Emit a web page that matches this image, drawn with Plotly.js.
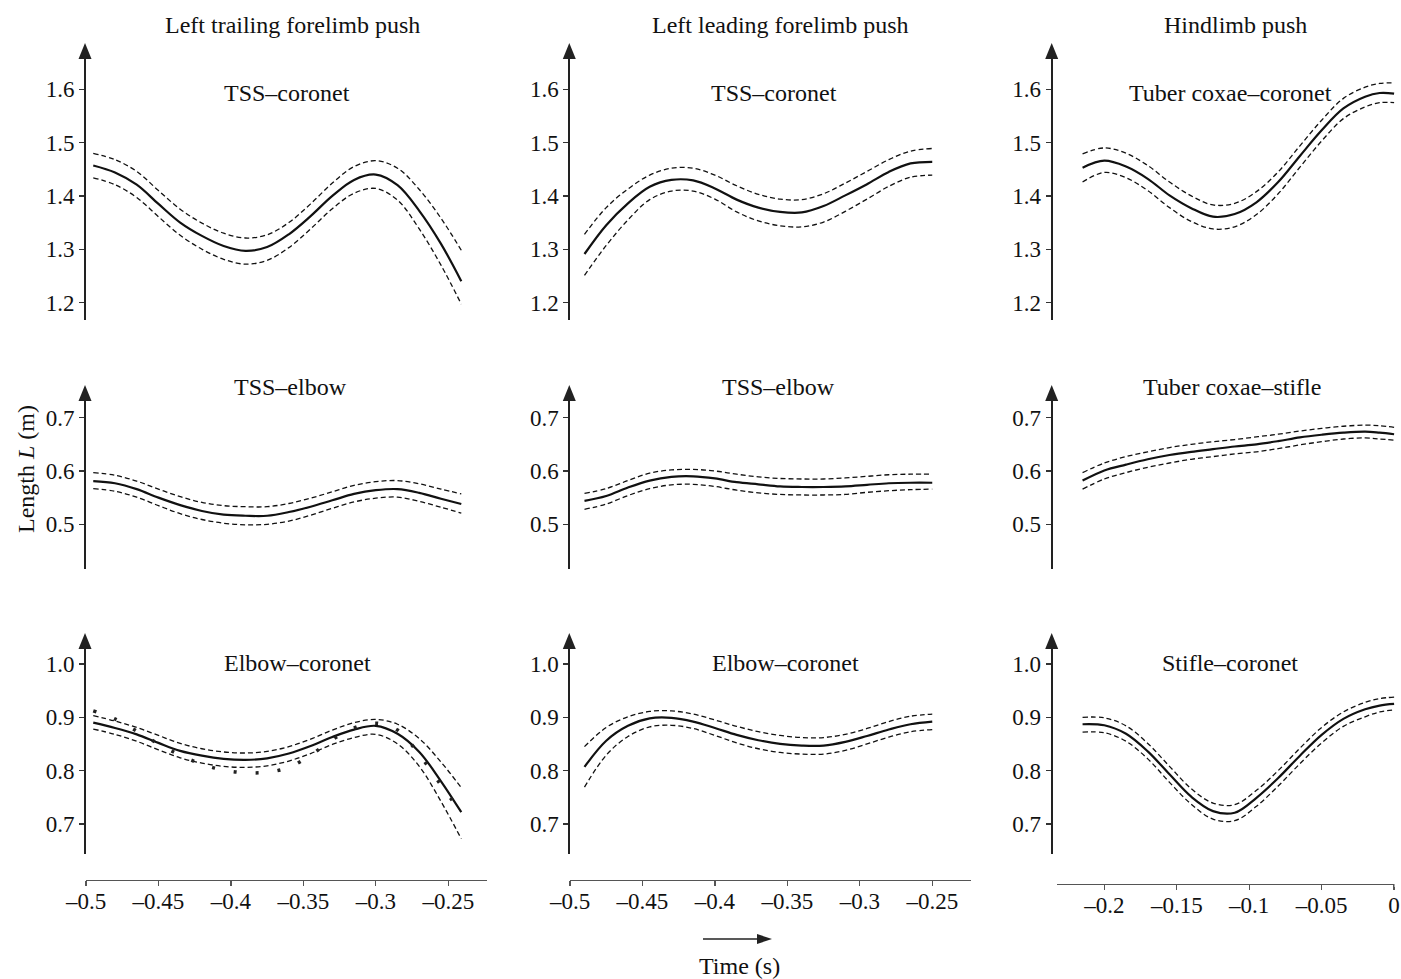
<!DOCTYPE html>
<html>
<head>
<meta charset="utf-8">
<script src="https://cdn.plot.ly/plotly-3.0.1.min.js"></script>
<style>html,body{margin:0;padding:0;background:#fff;}#chart{width:1401px;height:979px;}</style>
</head>
<body>
<div id="chart"></div>
<script>
// ---------- DATA ----------
const columnTitles = ["Left trailing forelimb push", "Left leading forelimb push", "Hindlimb push"];
const panelTitles = [
  "TSS–coronet", "TSS–coronet", "Tuber coxae–coronet",
  "TSS–elbow", "TSS–elbow", "Tuber coxae–stifle",
  "Elbow–coronet", "Elbow–coronet", "Stifle–coronet"
];

// time grids (s)
const tTrail = [-0.495, -0.48, -0.465, -0.45, -0.435, -0.42, -0.405, -0.39, -0.375, -0.36, -0.345, -0.33, -0.315, -0.30, -0.285, -0.27, -0.255, -0.241];
const tLead  = [-0.49, -0.475, -0.46, -0.445, -0.43, -0.415, -0.40, -0.385, -0.37, -0.355, -0.34, -0.325, -0.31, -0.295, -0.28, -0.265, -0.25];
const tHind  = [-0.215, -0.2, -0.185, -0.17, -0.155, -0.14, -0.125, -0.11, -0.095, -0.08, -0.065, -0.05, -0.035, -0.02, -0.01, 0];

// Left trailing forelimb push
const trailTssCoronetMean = [1.457, 1.444, 1.421, 1.385, 1.350, 1.325, 1.306, 1.297, 1.304, 1.328, 1.362, 1.400, 1.430, 1.440, 1.420, 1.372, 1.310, 1.240];
const trailTssCoronetUp   = [1.480, 1.468, 1.446, 1.410, 1.375, 1.349, 1.330, 1.321, 1.327, 1.350, 1.385, 1.424, 1.455, 1.466, 1.452, 1.412, 1.358, 1.298];
const trailTssCoronetLo   = [1.434, 1.421, 1.397, 1.361, 1.326, 1.300, 1.281, 1.272, 1.279, 1.303, 1.338, 1.376, 1.405, 1.414, 1.392, 1.338, 1.270, 1.197];

const trailTssElbowMean = [0.581, 0.577, 0.566, 0.550, 0.536, 0.525, 0.518, 0.516, 0.516, 0.523, 0.533, 0.545, 0.557, 0.564, 0.566, 0.559, 0.548, 0.538];
const trailTssElbowUp   = [0.597, 0.592, 0.581, 0.566, 0.552, 0.541, 0.535, 0.533, 0.533, 0.539, 0.549, 0.561, 0.573, 0.580, 0.582, 0.576, 0.566, 0.557];
const trailTssElbowLo   = [0.567, 0.562, 0.551, 0.535, 0.520, 0.509, 0.502, 0.499, 0.500, 0.506, 0.517, 0.530, 0.542, 0.549, 0.551, 0.543, 0.532, 0.521];

const trailElbowCoronetMean = [0.890, 0.880, 0.868, 0.852, 0.837, 0.828, 0.822, 0.820, 0.823, 0.832, 0.846, 0.863, 0.877, 0.884, 0.869, 0.835, 0.780, 0.722];
const trailElbowCoronetUp   = [0.903, 0.893, 0.881, 0.866, 0.851, 0.841, 0.835, 0.833, 0.836, 0.845, 0.859, 0.876, 0.890, 0.896, 0.887, 0.860, 0.816, 0.768];
const trailElbowCoronetLo   = [0.878, 0.868, 0.855, 0.839, 0.824, 0.814, 0.808, 0.806, 0.809, 0.818, 0.832, 0.849, 0.862, 0.868, 0.850, 0.808, 0.742, 0.672];
const trailElbowCoronetAlt  = [0.912, 0.897, 0.874, 0.850, 0.829, 0.812, 0.801, 0.796, 0.797, 0.806, 0.829, 0.858, 0.880, 0.889, 0.876, 0.830, 0.773, 0.721];

// Left leading forelimb push
const leadTssCoronetMean = [1.291, 1.345, 1.386, 1.417, 1.430, 1.429, 1.414, 1.393, 1.378, 1.370, 1.369, 1.381, 1.401, 1.422, 1.445, 1.461, 1.464];
const leadTssCoronetUp   = [1.328, 1.378, 1.413, 1.439, 1.452, 1.452, 1.439, 1.419, 1.403, 1.394, 1.393, 1.404, 1.424, 1.446, 1.468, 1.484, 1.489];
const leadTssCoronetLo   = [1.251, 1.307, 1.355, 1.393, 1.409, 1.409, 1.394, 1.370, 1.353, 1.344, 1.342, 1.351, 1.371, 1.394, 1.418, 1.435, 1.439];

const leadTssElbowMean = [0.544, 0.553, 0.569, 0.582, 0.589, 0.590, 0.586, 0.579, 0.575, 0.571, 0.570, 0.570, 0.571, 0.574, 0.577, 0.578, 0.578];
const leadTssElbowUp   = [0.558, 0.567, 0.582, 0.596, 0.602, 0.603, 0.600, 0.594, 0.589, 0.586, 0.585, 0.585, 0.587, 0.590, 0.593, 0.594, 0.594];
const leadTssElbowLo   = [0.528, 0.538, 0.554, 0.567, 0.574, 0.575, 0.571, 0.564, 0.559, 0.556, 0.555, 0.555, 0.556, 0.560, 0.563, 0.565, 0.566];

const leadElbowCoronetMean = [0.807, 0.856, 0.884, 0.898, 0.899, 0.892, 0.880, 0.867, 0.857, 0.850, 0.847, 0.847, 0.854, 0.865, 0.877, 0.887, 0.892];
const leadElbowCoronetUp   = [0.845, 0.881, 0.901, 0.911, 0.912, 0.906, 0.895, 0.883, 0.873, 0.866, 0.862, 0.862, 0.868, 0.879, 0.892, 0.902, 0.906];
const leadElbowCoronetLo   = [0.769, 0.829, 0.864, 0.882, 0.885, 0.879, 0.866, 0.852, 0.841, 0.834, 0.831, 0.831, 0.838, 0.850, 0.863, 0.873, 0.877];

// Hindlimb push
const hindCoxaeCoronetMean = [1.453, 1.466, 1.455, 1.432, 1.401, 1.377, 1.361, 1.366, 1.388, 1.426, 1.475, 1.523, 1.564, 1.586, 1.593, 1.592];
const hindCoxaeCoronetUp   = [1.479, 1.490, 1.480, 1.457, 1.426, 1.400, 1.383, 1.386, 1.408, 1.445, 1.494, 1.542, 1.583, 1.604, 1.611, 1.612];
const hindCoxaeCoronetLo   = [1.426, 1.444, 1.434, 1.410, 1.378, 1.352, 1.338, 1.342, 1.365, 1.404, 1.454, 1.503, 1.545, 1.567, 1.575, 1.575];

const hindCoxaeStifleMean = [0.582, 0.601, 0.612, 0.622, 0.630, 0.636, 0.641, 0.646, 0.650, 0.656, 0.663, 0.668, 0.672, 0.674, 0.672, 0.669];
const hindCoxaeStifleUp   = [0.597, 0.615, 0.627, 0.636, 0.644, 0.650, 0.655, 0.659, 0.664, 0.669, 0.675, 0.680, 0.684, 0.686, 0.685, 0.682];
const hindCoxaeStifleLo   = [0.566, 0.585, 0.597, 0.607, 0.615, 0.622, 0.627, 0.632, 0.636, 0.642, 0.649, 0.655, 0.660, 0.662, 0.660, 0.658];

const hindStifleCoronetMean = [0.887, 0.885, 0.869, 0.836, 0.793, 0.751, 0.724, 0.721, 0.749, 0.786, 0.828, 0.867, 0.897, 0.915, 0.922, 0.925];
const hindStifleCoronetUp   = [0.900, 0.899, 0.884, 0.851, 0.808, 0.766, 0.739, 0.736, 0.763, 0.800, 0.842, 0.881, 0.910, 0.928, 0.935, 0.938];
const hindStifleCoronetLo   = [0.872, 0.871, 0.855, 0.822, 0.778, 0.737, 0.709, 0.706, 0.733, 0.771, 0.813, 0.852, 0.883, 0.901, 0.910, 0.914];

// tick labels
const yTicksRow1 = [1.2, 1.3, 1.4, 1.5, 1.6];
const yTextRow1 = ["1.2", "1.3", "1.4", "1.5", "1.6"];
const yTicksRow2 = [0.5, 0.6, 0.7];
const yTextRow2 = ["0.5", "0.6", "0.7"];
const yTicksRow3 = [0.7, 0.8, 0.9, 1.0];
const yTextRow3 = ["0.7", "0.8", "0.9", "1.0"];
const xTicksFore = [-0.5, -0.45, -0.4, -0.35, -0.3, -0.25];
const xTextFore = ["–0.5", "–0.45", "–0.4", "–0.35", "–0.3", "–0.25"];
const xTicksHind = [-0.2, -0.15, -0.1, -0.05, 0];
const xTextHind = ["–0.2", "–0.15", "–0.1", "–0.05", "0"];
const yAxisTitle = "Length <i>L</i> (m)";
const xAxisTitle = "Time (s)";

// ---------- LAYOUT GEOMETRY ----------
const W = 1401, H = 979;
const PX = v => v / W;
const PY = v => 1 - v / H;
const FONT = "Liberation Serif, Times New Roman, serif";
const FS = 23;   // tick labels
const TS = 24;   // titles
const YS = 533, XS = 1449;

const rows = [
  {tip: 43, bot: 320, ref: 1.6, refPx: 89.3, tv: yTicksRow1, tt: yTextRow1, titleY: 93},
  {tip: 385, bot: 569, ref: 0.7, refPx: 417.7, tv: yTicksRow2, tt: yTextRow2, titleY: 387},
  {tip: 633, bot: 854, ref: 1.0, refPx: 664, tv: yTicksRow3, tt: yTextRow3, titleY: 663}
];
const cols = [
  {axisX: 85, domL: 86, domR: 487, xref: -0.5, xrefPx: 86, axisY: 880, tv: xTicksFore, tt: xTextFore, t: tTrail, headX: 292, titleX: [287, 290, 297]},
  {axisX: 569.3, domL: 570, domR: 971, xref: -0.5, xrefPx: 570, axisY: 880, tv: xTicksFore, tt: xTextFore, t: tLead, headX: 780, titleX: [774, 778, 785]},
  {axisX: 1051.7, domL: 1057, domR: 1397, xref: -0.2, xrefPx: 1104.3, axisY: 884, tv: xTicksHind, tt: xTextHind, t: tHind, headX: 1235, titleX: [1230, 1232, 1230]}
];

const panels = [
  [trailTssCoronetMean, trailTssCoronetUp, trailTssCoronetLo],
  [leadTssCoronetMean, leadTssCoronetUp, leadTssCoronetLo],
  [hindCoxaeCoronetMean, hindCoxaeCoronetUp, hindCoxaeCoronetLo],
  [trailTssElbowMean, trailTssElbowUp, trailTssElbowLo],
  [leadTssElbowMean, leadTssElbowUp, leadTssElbowLo],
  [hindCoxaeStifleMean, hindCoxaeStifleUp, hindCoxaeStifleLo],
  [trailElbowCoronetMean, trailElbowCoronetUp, trailElbowCoronetLo],
  [leadElbowCoronetMean, leadElbowCoronetUp, leadElbowCoronetLo],
  [hindStifleCoronetMean, hindStifleCoronetUp, hindStifleCoronetLo]
];

const layout = {
  width: W, height: H,
  margin: {l: 0, r: 0, t: 0, b: 0},
  paper_bgcolor: "#fff", plot_bgcolor: "rgba(0,0,0,0)",
  showlegend: false,
  font: {family: FONT, size: FS, color: "#111"},
  shapes: [], annotations: []
};

cols.forEach((c, ci) => {
  const id = ci === 0 ? "xaxis" : "xaxis" + (ci + 1);
  layout[id] = {
    domain: [PX(c.domL), PX(c.domR)],
    range: [c.xref + (c.domL - c.xrefPx) / XS, c.xref + (c.domR - c.xrefPx) / XS],
    anchor: "free", position: PY(c.axisY),
    showline: true, linecolor: "#555", linewidth: 1.2,
    ticks: "outside", ticklen: 5, tickwidth: 1.2, tickcolor: "#555",
    tickmode: "array", tickvals: c.tv, ticktext: c.tt,
    tickfont: {family: FONT, size: FS, color: "#111"},
    showgrid: false, zeroline: false, fixedrange: true
  };
  layout.annotations.push({
    text: columnTitles[ci], xref: "paper", yref: "paper",
    x: PX(c.headX), y: PY(25), showarrow: false,
    font: {family: FONT, size: TS, color: "#111"}, xanchor: "center", yanchor: "middle"
  });
});

const traces = [];
rows.forEach((r, ri) => {
  cols.forEach((c, ci) => {
    const i = ri * 3 + ci;
    const yid = i === 0 ? "yaxis" : "yaxis" + (i + 1);
    const top = r.tip + 15;
    layout[yid] = {
      domain: [PY(r.bot), PY(top)],
      range: [r.ref - (r.bot - r.refPx) / YS, r.ref + (r.refPx - top) / YS],
      anchor: "free", position: PX(c.axisX),
      showline: true, linecolor: "#222", linewidth: 2,
      ticks: "outside", ticklen: 5, tickwidth: 1.2, tickcolor: "#333",
      tickmode: "array", tickvals: r.tv, ticktext: r.tt,
      tickfont: {family: FONT, size: FS, color: "#111"},
      showgrid: false, zeroline: false, fixedrange: true
    };
    layout.shapes.push({
      type: "path", xref: "paper", yref: "paper",
      path: `M ${PX(c.axisX - 6.5)},${PY(top + 1)} L ${PX(c.axisX)},${PY(r.tip)} L ${PX(c.axisX + 6.5)},${PY(top + 1)} Z`,
      fillcolor: "#222", line: {width: 0}
    });
    layout.annotations.push({
      text: panelTitles[i], xref: "paper", yref: "paper",
      x: PX(c.titleX[ri]), y: PY(r.titleY), showarrow: false,
      font: {family: FONT, size: TS, color: "#111"}, xanchor: "center", yanchor: "middle"
    });
    const xa = ci === 0 ? "x" : "x" + (ci + 1);
    const ya = i === 0 ? "y" : "y" + (i + 1);
    const [m, u, l] = panels[i];
    [u, l].forEach(arr => traces.push({
      type: "scatter", mode: "lines", x: c.t, y: arr, xaxis: xa, yaxis: ya,
      line: {color: "#111", width: 1.3, dash: "5px,3px", shape: "spline", smoothing: 1},
      hoverinfo: "skip"
    }));
    traces.push({
      type: "scatter", mode: "lines", x: c.t, y: m, xaxis: xa, yaxis: ya,
      line: {color: "#111", width: 2.2, shape: "spline", smoothing: 1},
      hoverinfo: "skip"
    });
    if (i === 6) {
      traces.push({
        type: "scatter", mode: "lines", x: c.t, y: trailElbowCoronetAlt, xaxis: xa, yaxis: ya,
        line: {color: "#222", width: 3.5, dash: "3px,19px", shape: "spline", smoothing: 1},
        hoverinfo: "skip"
      });
    }
  });
});

// white cover over the hindlimb x-axis overshoot beyond t = 0
layout.shapes.push({
  type: "rect", xref: "paper", yref: "paper", layer: "above",
  x0: PX(1394.5), x1: PX(1401), y0: PY(887), y1: PY(881),
  fillcolor: "#fff", line: {width: 0}
});

// axis titles
layout.annotations.push({
  text: yAxisTitle, xref: "paper", yref: "paper", x: PX(26), y: PY(469),
  showarrow: false, textangle: -90, font: {family: FONT, size: TS, color: "#111"},
  xanchor: "center", yanchor: "middle"
});
layout.annotations.push({
  text: xAxisTitle, xref: "paper", yref: "paper", x: PX(740), y: PY(966),
  showarrow: false, font: {family: FONT, size: TS, color: "#111"},
  xanchor: "center", yanchor: "middle"
});
// time direction arrow
layout.shapes.push({
  type: "line", xref: "paper", yref: "paper",
  x0: PX(703), y0: PY(939), x1: PX(760), y1: PY(939),
  line: {color: "#222", width: 1.5}
});
layout.shapes.push({
  type: "path", xref: "paper", yref: "paper",
  path: `M ${PX(757)},${PY(934)} L ${PX(772)},${PY(939)} L ${PX(757)},${PY(944)} Z`,
  fillcolor: "#222", line: {width: 0}
});

Plotly.newPlot("chart", traces, layout, {staticPlot: true, displayModeBar: false}).then(gd => {
  // nudge x tick labels up slightly to sit closer to the axis line, as in the reference
  document.querySelectorAll(".xtick text, .x2tick text, .x3tick text").forEach(t => {
    const y = parseFloat(t.getAttribute("y") || 0);
    t.setAttribute("y", y - 5);
  });
});
</script>
</body>
</html>
